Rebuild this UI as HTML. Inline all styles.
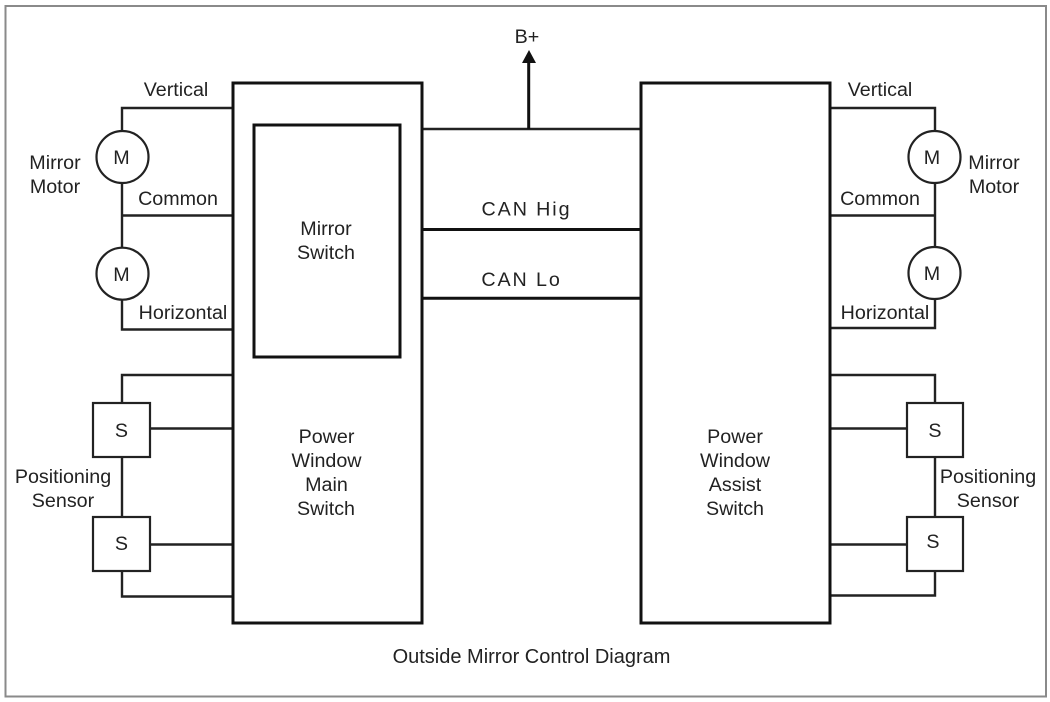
<!DOCTYPE html>
<html><head><meta charset="utf-8"><style>
html,body{margin:0;padding:0;background:#fff}
svg{display:block;filter:blur(.35px)}
text{font-family:"Liberation Sans",sans-serif;font-size:19.7px;fill:#222;text-anchor:middle}
</style></head><body>
<svg width="1050" height="702" viewBox="0 0 1050 702">
<rect width="1050" height="702" fill="#fff"/>
<rect x="5.5" y="6" width="1040.5" height="690.5" fill="none" stroke="#8a8a8a" stroke-width="2"/>
<g fill="none" stroke="#222" stroke-width="2.4">
<path d="M233 108H122V131M122 183V248M122 215.5H233M122 300V329.5H233"/>
<path d="M233 375H122V403M150 428.5H233M122 457V517M150 544.5H233M122 571V596.5H233"/>
<path d="M830 108H935V131M935 183V247M830 215.5H935M935 299V328H830"/>
<path d="M830 375H935V403M830 428.5H907M935 457V517M830 544.5H907M935 571V595.5H830"/>
<path d="M422 129H640"/>
</g>
<g fill="none" stroke="#111" stroke-width="3">
<rect x="233" y="83" width="189" height="540"/>
<rect x="641" y="83" width="189" height="540"/>
<rect x="254" y="125" width="146" height="232"/>
<path d="M422 229.5H640M422 298.3H640"/>
<path d="M528.7 129V60"/>
</g>
<path d="M529 50L536 63H522Z" fill="#111"/>
<g fill="#fff" stroke="#222" stroke-width="2.2">
<circle cx="122.5" cy="157" r="26"/><circle cx="122.5" cy="273.7" r="26"/>
<circle cx="934.5" cy="157" r="26"/><circle cx="934.5" cy="273" r="26"/>
<rect x="93" y="403" width="57" height="54"/><rect x="93" y="517" width="57" height="54"/>
<rect x="907" y="403" width="56" height="54"/><rect x="907" y="517" width="56" height="54"/>
</g>
<text x="527" y="43">B+</text>
<text x="176" y="96">Vertical</text><text x="880" y="96">Vertical</text>
<text x="121.5" y="164">M</text><text x="121.5" y="281">M</text><text x="932" y="164">M</text><text x="932" y="280">M</text>
<text x="55" y="169">Mirror</text><text x="55" y="193">Motor</text>
<text x="994" y="169">Mirror</text><text x="994" y="193">Motor</text>
<text x="178" y="205">Common</text><text x="880" y="205">Common</text>
<text x="183" y="319">Horizontal</text><text x="885" y="319">Horizontal</text>
<text x="121.5" y="437">S</text><text x="121.5" y="550">S</text><text x="935" y="437">S</text><text x="933" y="548">S</text>
<text x="63" y="483">Positioning</text><text x="63" y="507">Sensor</text>
<text x="988" y="483">Positioning</text><text x="988" y="507">Sensor</text>
<text x="326" y="235">Mirror</text><text x="326" y="259">Switch</text>
<text x="326.5" y="443">Power</text><text x="326.5" y="467">Window</text><text x="326.5" y="491">Main</text><text x="326" y="515">Switch</text>
<text x="735" y="443">Power</text><text x="735" y="467">Window</text><text x="735" y="491">Assist</text><text x="735" y="515">Switch</text>
<text x="526.5" y="215.5" style="letter-spacing:1.9px">CAN Hig</text>
<text x="521.5" y="286" style="letter-spacing:1.9px">CAN Lo</text>
<text x="531.5" y="663" style="font-size:20px">Outside Mirror Control Diagram</text>
</svg>
</body></html>
